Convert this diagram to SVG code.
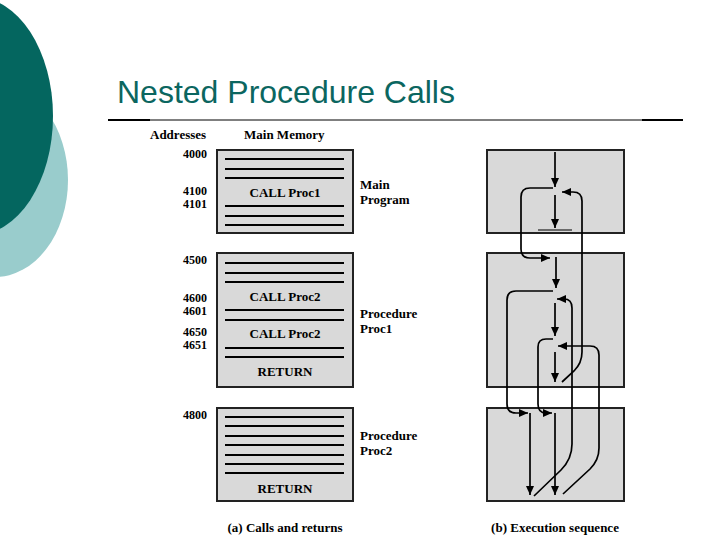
<svg xmlns="http://www.w3.org/2000/svg" width="720" height="540" viewBox="0 0 720 540">
<style>
.t{font-family:"Liberation Serif","Times New Roman",serif;font-weight:bold;font-size:13px;fill:#000}
.a{text-anchor:end;font-size:12px}
.m{text-anchor:middle}
.box{fill:#d9d9d9;stroke:#222;stroke-width:2}
.ln{stroke:#000;stroke-width:2}
.f{fill:none;stroke:#000;stroke-width:1.7}
</style>
<defs>
<marker id="ah" markerUnits="userSpaceOnUse" markerWidth="10" markerHeight="8" refX="9" refY="4" orient="auto">
<path d="M0 0 L9 4 L0 8 z" fill="#000"/>
</marker>
</defs>
<rect width="720" height="540" fill="#fff"/>
<g id="decor">
<ellipse cx="-5" cy="180" rx="73" ry="97" fill="#99cccc"/>
<ellipse cx="-25" cy="116" rx="78" ry="119" fill="#04665f"/>
</g>
<g id="title">
<text x="117" y="103" font-family="'Liberation Sans',Arial,sans-serif" font-size="32" fill="#0b6660">Nested Procedure Calls</text>
<line x1="108" y1="120" x2="683" y2="120" stroke="#000" stroke-width="1"/>
<line x1="108" y1="120" x2="150" y2="120" stroke="#000" stroke-width="2"/>
<line x1="642" y1="120" x2="683" y2="120" stroke="#000" stroke-width="2"/>
</g>
<g id="headers">
<text class="t" x="150" y="139">Addresses</text>
<text class="t" x="244" y="139">Main Memory</text>
</g>
<g id="mem-main">
<rect class="box" x="217" y="150" width="136" height="83"/>
<g class="ln"><line x1="225" y1="159" x2="344" y2="159"/><line x1="225" y1="169" x2="344" y2="169"/><line x1="225" y1="178" x2="344" y2="178"/><line x1="225" y1="206" x2="344" y2="206"/><line x1="225" y1="216" x2="344" y2="216"/><line x1="225" y1="225" x2="344" y2="225"/></g>
<text class="t m" x="285" y="197">CALL Proc1</text>
<text class="t a" x="207" y="158">4000</text>
<text class="t a" x="207" y="195">4100</text>
<text class="t a" x="207" y="208">4101</text>
<text class="t" x="360" y="189">Main</text>
<text class="t" x="360" y="204">Program</text>
</g>
<g id="mem-proc1">
<rect class="box" x="217" y="253" width="136" height="134"/>
<g class="ln"><line x1="225" y1="263" x2="344" y2="263"/><line x1="225" y1="273" x2="344" y2="273"/><line x1="225" y1="282" x2="344" y2="282"/><line x1="225" y1="310" x2="344" y2="310"/><line x1="225" y1="320" x2="344" y2="320"/><line x1="225" y1="348" x2="344" y2="348"/><line x1="225" y1="357" x2="344" y2="357"/></g>
<text class="t m" x="285" y="301">CALL Proc2</text>
<text class="t m" x="285" y="338">CALL Proc2</text>
<text class="t m" x="285" y="376">RETURN</text>
<text class="t a" x="207" y="264">4500</text>
<text class="t a" x="207" y="302">4600</text>
<text class="t a" x="207" y="315">4601</text>
<text class="t a" x="207" y="336">4650</text>
<text class="t a" x="207" y="349">4651</text>
<text class="t" x="360" y="318">Procedure</text>
<text class="t" x="360" y="333">Proc1</text>
</g>
<g id="mem-proc2">
<rect class="box" x="217" y="408" width="136" height="93"/>
<g class="ln"><line x1="225" y1="417" x2="344" y2="417"/><line x1="225" y1="426" x2="344" y2="426"/><line x1="225" y1="436" x2="344" y2="436"/><line x1="225" y1="445" x2="344" y2="445"/><line x1="225" y1="455" x2="344" y2="455"/><line x1="225" y1="464" x2="344" y2="464"/><line x1="225" y1="473" x2="344" y2="473"/></g>
<text class="t m" x="285" y="493">RETURN</text>
<text class="t a" x="207" y="419">4800</text>
<text class="t" x="360" y="440">Procedure</text>
<text class="t" x="360" y="455">Proc2</text>
</g>
<g id="exec-main"><rect class="box" x="487" y="150" width="137" height="83"/></g>
<g id="exec-proc1"><rect class="box" x="487" y="253" width="137" height="134"/></g>
<g id="exec-proc2"><rect class="box" x="487" y="408" width="137" height="93"/></g>
<g id="connectors">
<path class="f" d="M555 152 V187" marker-end="url(#ah)"/>
<path class="f" d="M555 195 V228" marker-end="url(#ah)"/>
<path d="M538 230 H572" stroke="#444" stroke-width="1.5"/>
<path class="f" d="M553 188 H530 Q521 188 521 197 V249 Q521 258 530 258 H550" marker-end="url(#ah)"/>
<path class="f" d="M562 382 L574 371 Q582 363 582 352 V201 Q582 192 573 192 H562" marker-end="url(#ah)"/>
<path class="f" d="M556 257 V288" marker-end="url(#ah)"/>
<path class="f" d="M553 291 H516 Q507 291 507 300 V404 Q507 413 516 413 H528" marker-end="url(#ah)"/>
<path class="f" d="M530 413 V495" marker-end="url(#ah)"/>
<path class="f" d="M534 496 L561 470 Q572 459 572 444 V308 Q572 299 564 299 H557" marker-end="url(#ah)"/>
<path class="f" d="M555 303 V336" marker-end="url(#ah)"/>
<path class="f" d="M553 339 H546 Q538 339 538 347 V404 Q538 413 546 413 H552" marker-end="url(#ah)"/>
<path class="f" d="M555 413 V495" marker-end="url(#ah)"/>
<path class="f" d="M563 494 L590 469 Q599 460 599 448 V355 Q599 346 590 346 H558" marker-end="url(#ah)"/>
<path class="f" d="M555 352 V382" marker-end="url(#ah)"/>
</g>
<g id="captions">
<text class="t m" x="285" y="532">(a) Calls and returns</text>
<text class="t m" x="555" y="532">(b) Execution sequence</text>
</g>
</svg>
